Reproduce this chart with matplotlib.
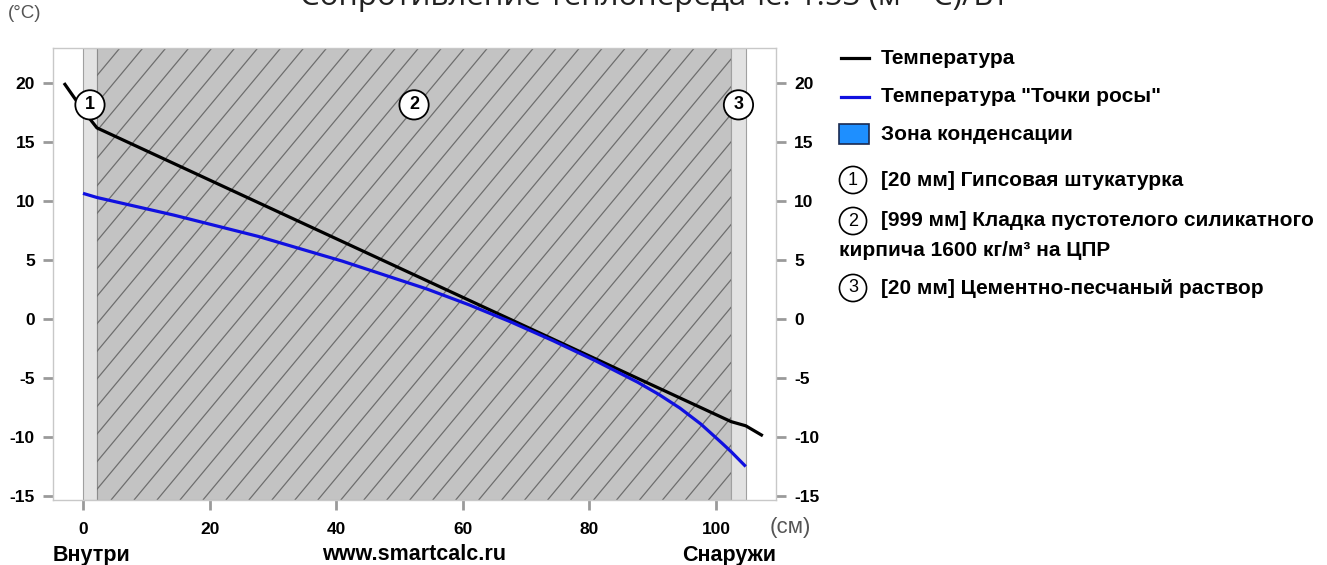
import numpy as np
import matplotlib
matplotlib.use("Agg")
import matplotlib.pyplot as plt
from matplotlib import font_manager
from matplotlib.collections import LineCollection
from matplotlib.lines import Line2D
from matplotlib.patches import Rectangle

# --- data ---
layer_edges = [0.0, 2.2, 102.4, 104.7]          # cm
layer_ids = ["1", "2", "3"]
layer_names = ["[20 мм] Гипсовая штукатурка",
               "[999 мм] Кладка пустотелого силикатного",
               "[20 мм] Цементно-песчаный раствор"]
layer2_tail = "кирпича 1600 кг/м³ на ЦПР"

temp_x = [-3.0, 0.0, 2.2, 102.4, 104.7, 107.4]
temp_t = [20.0, 17.7, 16.2, -8.7, -9.05, -9.9]

dew_x = [0.0, 2.2, 14.4, 27.7, 41.0, 54.3, 61.0, 67.6, 74.3, 81.0, 87.6,
         91.0, 94.3, 97.6, 100.9, 102.4, 104.7]
dew_t = [10.65, 10.3, 8.8, 7.0, 4.9, 2.55, 1.2, -0.25, -1.85, -3.55, -5.35,
         -6.4, -7.55, -8.9, -10.5, -11.25, -12.5]

x_ticks = [0, 20, 40, 60, 80, 100]
y_ticks = [20, 15, 10, 5, 0, -5, -10, -15]

title = "Сопротивление теплопередаче: 1.53 (м²·°С)/Вт"

W, H = 1327, 565
names = {f.name for f in font_manager.fontManager.ttflist}
narrow = "Liberation Sans Narrow" if "Liberation Sans Narrow" in names else "Liberation Sans"
plt.rcParams["font.family"] = ["Liberation Sans", "DejaVu Sans"]
plt.rcParams["axes.unicode_minus"] = False


def px(x, y):
    return x / W, 1 - y / H


fig = plt.figure(figsize=(W / 100, H / 100), dpi=100)
ax = fig.add_axes([53 / W, 1 - 500 / H, (776 - 53) / W, (500 - 48) / H])
ax.set_xlim(-4.74, 109.48)
ax.set_ylim(-15.34, 22.97)

# layers
plaster_c = "#e2e2e2"
brick_c = "#c3c3c3"
ax.axvspan(layer_edges[0], layer_edges[1], facecolor=plaster_c, edgecolor="#a0a0a0", lw=0.8, zorder=1)
brick = ax.axvspan(layer_edges[1], layer_edges[2], facecolor=brick_c, edgecolor="#8c8c8c", lw=0.8, zorder=1)
ax.axvspan(layer_edges[2], layer_edges[3], facecolor=plaster_c, edgecolor="#a0a0a0", lw=0.8, zorder=1)

# diagonal hatch on the brick layer
y0, y1 = ax.get_ylim()
slope = 0.644      # degC per cm
step = 3.63        # cm between hatch lines
run = (y1 - y0) / slope
starts = np.arange(layer_edges[1] - run, layer_edges[2], step)
segs = [[(s, y0), (s + run, y1)] for s in starts]
lc = LineCollection(segs, colors="#6e6e6e", linewidths=0.9, zorder=1.5)
ax.add_collection(lc)
lc.set_clip_path(brick)

# curves
ax.plot(temp_x, temp_t, color="black", lw=2.3, zorder=3, solid_capstyle="butt")
ax.plot(dew_x, dew_t, color="#1010e0", lw=2.3, zorder=3, solid_capstyle="butt")

# layer numbers
for i, lid in enumerate(layer_ids):
    mid = (layer_edges[i] + layer_edges[i + 1]) / 2
    ax.text(mid, 18.15, lid, ha="center", va="center", fontsize=13, fontweight="bold",
            zorder=5, bbox=dict(boxstyle="circle,pad=0.34", fc="white", ec="black", lw=1.3))

# axes styling
for sp in ax.spines.values():
    sp.set_color("#c8c8c8")
    sp.set_linewidth(1)
ax.set_xticks(x_ticks)
ax.set_yticks(y_ticks)
ax.tick_params(axis="both", color="#9a9a9a", width=2, length=7)
ax.tick_params(axis="x", pad=9)
ax.tick_params(axis="y", pad=6, right=True, labelright=True)
for tk in ax.xaxis.get_major_ticks() + ax.yaxis.get_major_ticks():
    for lab in (tk.label1, tk.label2):
        lab.set_fontfamily(narrow)
        lab.set_fontweight("bold")
        lab.set_fontsize(12.5)

# unit labels and bottom captions
fig.text(*px(8, 13), "(°C)", family=narrow, fontsize=13.5, color="#555555", va="center", ha="left")
fig.text(*px(770, 528), "(см)", family=narrow, fontsize=16, color="#555555", va="center", ha="left")
fig.text(*px(53, 555), "Внутри", family=narrow, fontsize=15.5, fontweight="bold", va="center", ha="left")
fig.text(*px(414, 555), "www.smartcalc.ru", family=narrow, fontsize=15.5, fontweight="bold", va="center", ha="center")
fig.text(*px(776, 555), "Снаружи", family=narrow, fontsize=15.5, fontweight="bold", va="center", ha="right")

# title (cut by the top edge as in the source)
fig.text(*px(654, 5), title, family=["Open Sans", "DejaVu Sans"], fontsize=22.5, color="#222222",
         ha="center", va="baseline")

# legend on the right
leg_fs = 15
fig.add_artist(Line2D([841 / W, 869 / W], [px(0, 58)[1]] * 2, color="black", lw=2.3))
fig.text(*px(881, 58), "Температура", fontsize=leg_fs, fontweight="bold", va="center")
fig.add_artist(Line2D([841 / W, 869 / W], [px(0, 97)[1]] * 2, color="#1010e0", lw=2.3))
fig.text(*px(881, 97), 'Температура "Точки росы"', fontsize=leg_fs, fontweight="bold", va="center")
fig.add_artist(Rectangle(px(839, 144), 30 / W, 20 / H, transform=fig.transFigure,
                         facecolor="#1e8fff", edgecolor="#1a2a50", lw=1.2))
fig.text(*px(881, 134), "Зона конденсации", fontsize=leg_fs, fontweight="bold", va="center")
for lid, name, yy in zip(layer_ids, layer_names, [180, 221, 288]):
    fig.text(*px(853, yy), lid, fontsize=13, ha="center", va="center",
             bbox=dict(boxstyle="circle,pad=0.28", fc="white", ec="black", lw=1.2))
    fig.text(*px(881, yy), name, fontsize=leg_fs, fontweight="bold", va="center")
fig.text(*px(839, 250), layer2_tail, fontsize=leg_fs, fontweight="bold", va="center")

fig.savefig("out.png", dpi=100, facecolor="white")
